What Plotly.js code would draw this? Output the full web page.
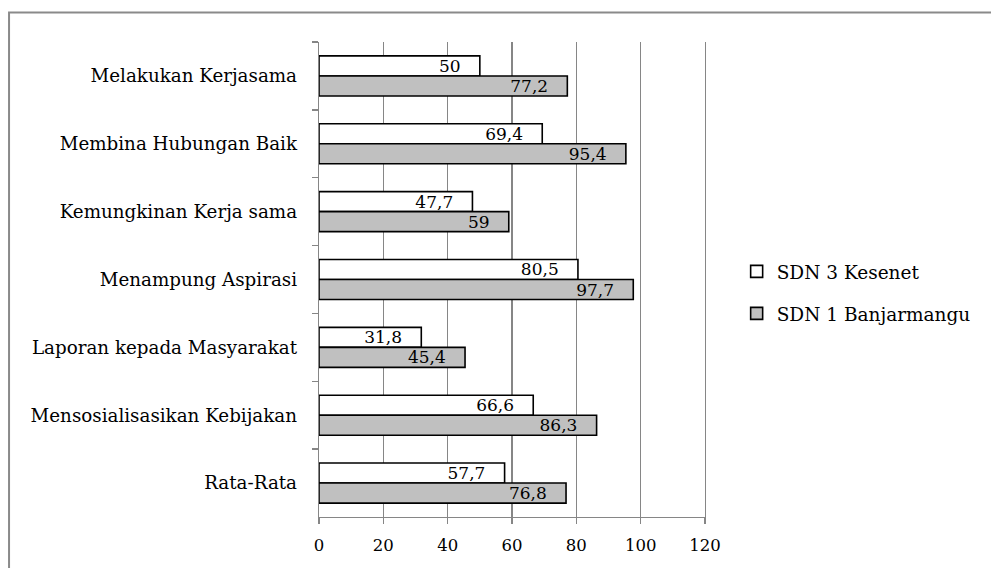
<!DOCTYPE html>
<html>
<head>
<meta charset="utf-8">
<script src="https://cdn.plot.ly/plotly-3.0.1.min.js"></script>
<style>
  html, body { margin: 0; padding: 0; background: #ffffff; }
  #chart { width: 991px; height: 568px; }
</style>
</head>
<body>
<div id="chart"></div>
<script>
// Indicator categories, listed top to bottom
const categories = [
  'Melakukan Kerjasama',
  'Membina Hubungan Baik',
  'Kemungkinan Kerja sama',
  'Menampung Aspirasi',
  'Laporan kepada Masyarakat',
  'Mensosialisasikan Kebijakan',
  'Rata-Rata'
];

const seriesNames = ['SDN 3 Kesenet', 'SDN 1 Banjarmangu'];
const kesenet = [50, 69.4, 47.7, 80.5, 31.8, 66.6, 57.7];
const banjarmangu = [77.2, 95.4, 59, 97.7, 45.4, 86.3, 76.8];

const xTicks = [0, 20, 40, 60, 80, 100, 120];

const FONT = 'DejaVu Serif, Liberation Serif, serif';
const GRID = '#868686';
const PAD = '\u00a0\u00a0\u00a0';

// Indonesian decimal comma
const fmt = v => String(v).replace('.', ',');

function barTrace(name, values, fill, group) {
  return {
    type: 'bar',
    orientation: 'h',
    name: name,
    legendgroup: group,
    y: categories,
    x: values,
    text: values.map(fmt),
    texttemplate: '%{text}' + PAD,
    textposition: 'inside',
    insidetextanchor: 'end',
    constraintext: 'none',
    textfont: { family: FONT, size: 17, color: '#000000' },
    marker: { color: fill, line: { color: '#000000', width: 1.6 } },
    hoverinfo: 'skip'
  };
}

const data = [
  barTrace(seriesNames[0], kesenet, '#ffffff', 'g1'),
  barTrace(seriesNames[1], banjarmangu, '#c0c0c0', 'g2')
];

const layout = {
  width: 991,
  height: 568,
  margin: { l: 319, r: 286, t: 42, b: 51, pad: 0 },
  paper_bgcolor: '#ffffff',
  plot_bgcolor: '#ffffff',
  font: { family: FONT, size: 17, color: '#000000' },
  barmode: 'group',
  bargap: 0.41,
  bargroupgap: 0,
  showlegend: true,
  legend: {
    x: 1.082, xanchor: 'left',
    y: 0.472, yanchor: 'middle',
    traceorder: 'grouped',
    tracegroupgap: 15,
    itemwidth: 30,
    font: { family: FONT, size: 18.5, color: '#000000' },
    bgcolor: 'rgba(0,0,0,0)'
  },
  xaxis: {
    range: [0, 120],
    tickvals: xTicks,
    ticktext: xTicks.map(String),
    showgrid: true,
    gridcolor: GRID,
    gridwidth: 1.3,
    zeroline: false,
    showline: true,
    linecolor: GRID,
    linewidth: 1.3,
    ticks: 'outside',
    ticklen: 6,
    tickcolor: GRID,
    tickwidth: 1.3,
    ticklabelstandoff: 7,
    tickfont: { family: FONT, size: 16.5, color: '#000000' },
    fixedrange: true
  },
  yaxis: {
    type: 'category',
    autorange: 'reversed',
    showgrid: false,
    zeroline: false,
    showline: true,
    mirror: true,            // right-hand edge doubles as the 120 gridline
    linecolor: GRID,
    linewidth: 1.3,
    ticks: 'outside',
    tickson: 'boundaries',
    ticklen: 6,
    tickcolor: GRID,
    tickwidth: 1.3,
    ticklabelstandoff: 17,
    tickfont: { family: FONT, size: 18.3, color: '#000000' },
    fixedrange: true
  },
  shapes: [{
    type: 'rect',
    xref: 'paper', yref: 'paper',
    x0: -0.803, x1: 1.76,
    y0: -0.3, y1: 1.0621,
    line: { color: '#8a8a8a', width: 2 },
    fillcolor: 'rgba(0,0,0,0)',
    layer: 'below'
  }]
};

Plotly.newPlot('chart', data, layout, { displayModeBar: false, staticPlot: true });
</script>
</body>
</html>
